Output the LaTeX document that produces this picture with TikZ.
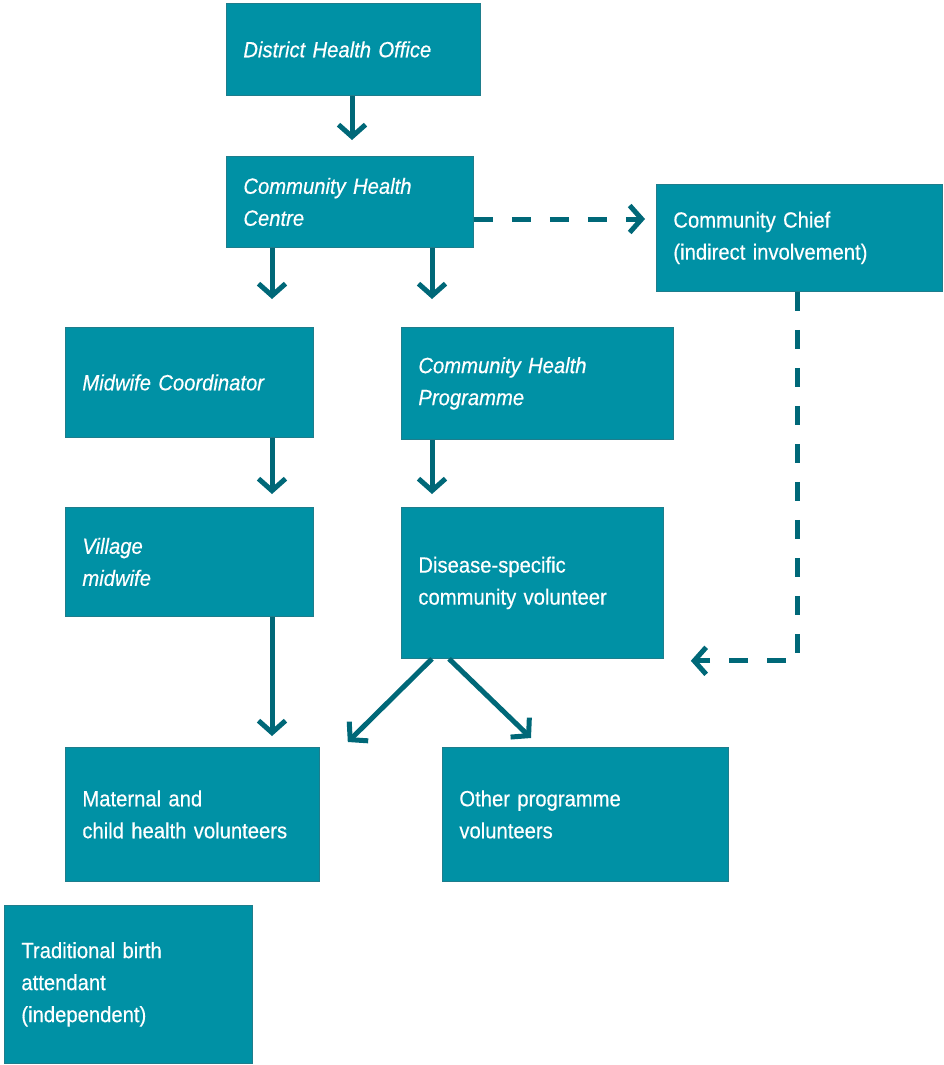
\documentclass[tikz,border=0pt]{standalone}
\usepackage{fontspec}
\setmainfont{Liberation Sans}[FakeStretch=0.92,FakeBold=0.4]
\usetikzlibrary{arrows.meta}
\definecolor{boxfill}{RGB}{0,145,165}
\definecolor{boxline}{RGB}{30,125,140}
\definecolor{arrowcol}{RGB}{0,104,120}
\tikzset{
  orgbox/.style={draw=boxline, fill=boxfill, line width=0.8pt, anchor=north west,
    inner xsep=17pt, inner ysep=0pt, align=left, text=white,
    font=\fontsize{22}{32}\selectfont},
  link/.style={draw=arrowcol, line width=5pt, -{Straight Barb[length=12pt,width=27pt]}},
  indirect/.style={link, dash pattern=on 19pt off 19pt},
}
\begin{document}
\begin{tikzpicture}[x=1pt,y=-1pt]
\useasboundingbox (0,0) rectangle (943,1065);
% boxes
\node[orgbox, text width=220pt, minimum height=92pt] (dho) at (226,3) {\itshape District Health Office};
\node[orgbox, text width=213pt, minimum height=91pt] (chc) at (226,156) {\itshape Community Health\\\itshape Centre};
\node[orgbox, text width=252pt, minimum height=107pt] (chief) at (656,184) {Community Chief\\(indirect involvement)};
\node[orgbox, text width=214pt, minimum height=110pt] (mwc) at (65,327) {\itshape Midwife Coordinator};
\node[orgbox, text width=238pt, minimum height=112pt] (chp) at (401,327) {\itshape Community Health\\\itshape Programme};
\node[orgbox, text width=214pt, minimum height=109pt] (vm) at (65,507) {\itshape Village\\\itshape midwife};
\node[orgbox, text width=228pt, minimum height=151pt] (dsv) at (401,507) {Disease-specific\\community volunteer};
\node[orgbox, text width=220pt, minimum height=134pt] (mchv) at (65,747) {Maternal and\\child health volunteers};
\node[orgbox, text width=252pt, minimum height=134pt] (opv) at (442,747) {Other programme\\volunteers};
\node[orgbox, text width=214pt, minimum height=158pt] (tba) at (4,905) {Traditional birth\\attendant\\(independent)};
% links
\draw[link] ([xshift=126pt]dho.south west) -- ([xshift=126pt,yshift=16pt]chc.north west);
\draw[link] ([xshift=46pt]chc.south west) -- ([xshift=207pt,yshift=28pt]mwc.north west);
\draw[link] ([xshift=206pt]chc.south west) -- ([xshift=31pt,yshift=28pt]chp.north west);
\draw[indirect] ([yshift=-63pt]chc.north east) -- ([xshift=-11pt,yshift=-35pt]chief.north west);
\draw[link] ([xshift=207pt]mwc.south west) -- ([xshift=207pt,yshift=13pt]vm.north west);
\draw[link] ([xshift=31pt]chp.south west) -- ([xshift=31pt,yshift=13pt]dsv.north west);
\draw[link] ([xshift=207pt]vm.south west) -- ([xshift=207pt,yshift=11pt]mchv.north west);
\draw[link] ([xshift=31pt]dsv.south west) -- ([xshift=28pt,yshift=5pt]mchv.north east);
\draw[link] ([xshift=48pt]dsv.south west) -- ([xshift=89pt,yshift=9pt]opv.north west);
\draw[indirect] ([xshift=141pt]chief.south west) |- ([xshift=27pt,yshift=-2pt]dsv.south east);
\end{tikzpicture}
\end{document}
